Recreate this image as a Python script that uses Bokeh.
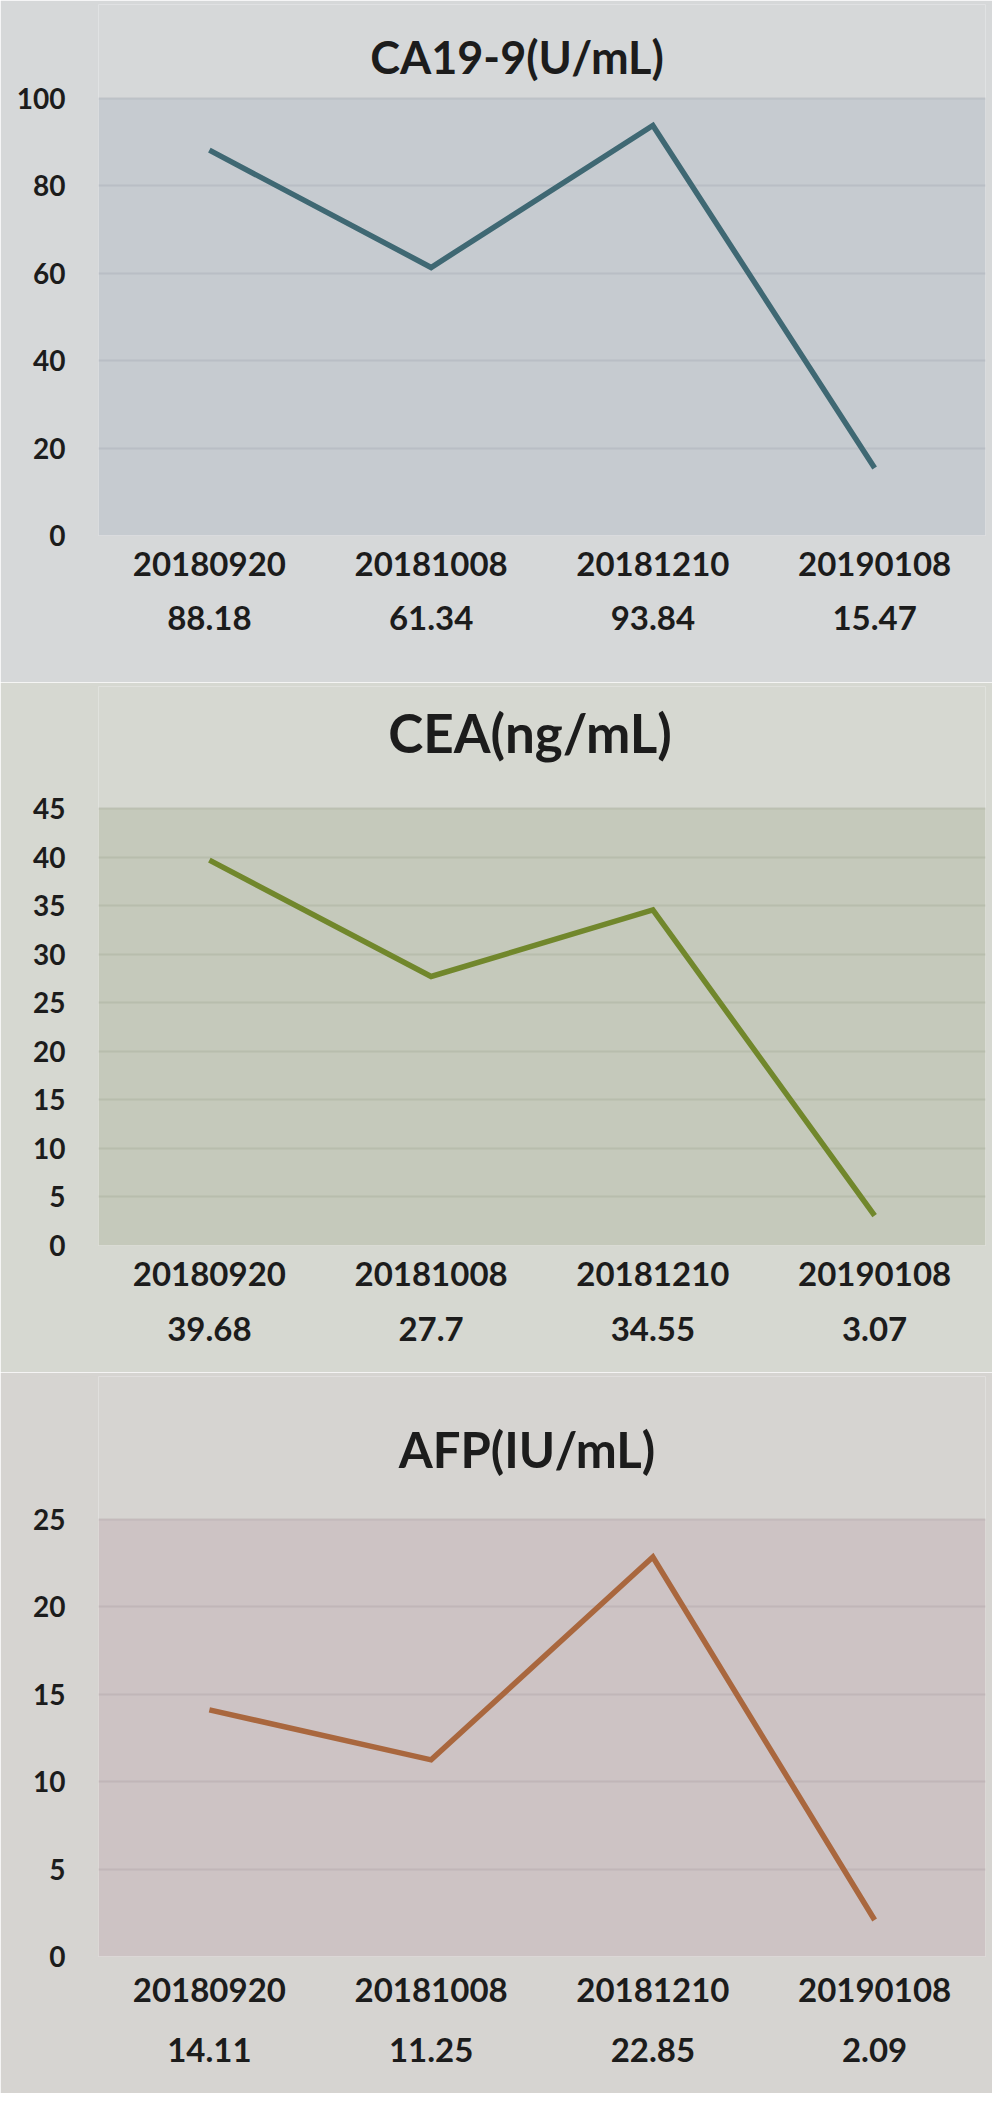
from bokeh.plotting import figure
from bokeh.models import (FactorRange, Range1d, CategoricalAxis, FixedTicker, BoxAnnotation)
from bokeh.core.properties import value
from bokeh.layouts import column
from bokeh.embed import file_html
from bokeh.resources import INLINE

dates = ["20180920", "20181008", "20181210", "20190108"]
ca199 = [88.18, 61.34, 93.84, 15.47]
cea = [39.68, 27.7, 34.55, 3.07]
afp = [14.11, 11.25, 22.85, 2.09]
titles = ["CA19-9(U/mL)", "CEA(ng/mL)", "AFP(IU/mL)"]
y_max = [100, 45, 25]
y_step = [20, 5, 5]

FONT = "Lato"
TXT = "#1c1c1c"
AREA_H = 437      # plot-area height in px
AREA_W = 887      # plot-area width in px
BAND_W = AREA_W / 4
TOP_PAD = 4


def style_cat_axis(ax, standoff):
    ax.axis_line_color = None
    ax.major_tick_line_color = None
    ax.major_tick_out = 0
    ax.major_tick_in = 0
    ax.major_label_standoff = standoff
    ax.major_label_text_font = FONT
    ax.major_label_text_font_size = "33px"
    ax.major_label_text_font_style = "bold"
    ax.major_label_text_color = TXT


def key_segment(p, x0_px, x1_px, y_data, color, width):
    """legend key of the data-table row, drawn as a short bounded axis rule"""
    ax = CategoricalAxis(bounds=(x0_px / BAND_W, x1_px / BAND_W), fixed_location=y_data)
    ax.axis_line_color = color
    ax.axis_line_width = width
    ax.axis_line_cap = "butt"
    ax.major_tick_line_color = None
    ax.minor_tick_line_color = None
    ax.major_tick_out = 0
    ax.major_tick_in = 0
    ax.major_label_text_font_size = "0px"
    ax.major_label_text_alpha = 0
    ax.major_label_standoff = 0
    p.add_layout(ax, "below")


def make_chart(title, vals, ymax, step, line_color, plot_fill, page_fill, H, area_top,
               t_size, t_gap, t_dx, cat_standoff, val_standoff, key_dy, grid_color):
    frame_h = AREA_H + area_top - TOP_PAD
    bottom = H - TOP_PAD - frame_h
    px = ymax / AREA_H
    p = figure(width=992, height=H,
               x_range=FactorRange(*dates), y_range=Range1d(0, frame_h * px),
               output_backend="svg", toolbar_location=None,
               min_border_left=98, min_border_right=7,
               min_border_top=TOP_PAD, min_border_bottom=bottom)
    p.title.visible = False
    p.background_fill_color = page_fill
    p.border_fill_color = page_fill
    p.outline_line_color = None

    # plot area
    p.add_layout(BoxAnnotation(bottom=0, top=ymax, fill_color=plot_fill, fill_alpha=1,
                               line_color=None, level="image"))

    ticks = list(range(0, ymax + 1, step))
    p.xgrid.grid_line_color = None
    p.ygrid.ticker = FixedTicker(ticks=ticks)
    p.ygrid.grid_line_color = grid_color
    p.ygrid.grid_line_width = 2
    p.ygrid.grid_line_alpha = 0.55

    ya = p.yaxis[0]
    ya.ticker = FixedTicker(ticks=ticks)
    ya.axis_line_color = None
    ya.major_tick_line_color = None
    ya.minor_tick_line_color = None
    ya.major_tick_out = 0
    ya.major_tick_in = 0
    ya.major_label_standoff = 33
    ya.major_label_text_font = FONT
    ya.major_label_text_font_size = "28px"
    ya.major_label_text_font_style = "bold"
    ya.major_label_text_color = TXT

    style_cat_axis(p.xaxis[0], cat_standoff)

    labels = [str(v) for v in vals]
    p.extra_x_ranges = {"vals": FactorRange(*labels)}
    va = CategoricalAxis(x_range_name="vals")
    style_cat_axis(va, val_standoff)
    p.add_layout(va, "below")

    p.line(x=dates, y=vals, line_color=line_color, line_width=5.5, line_join="miter")

    # chart title
    p.text(x=[2 + t_dx / BAND_W], y=[ymax + t_gap * px], text=[title],
           text_font=value(FONT), text_font_size=value(t_size), text_font_style="bold",
           text_color=TXT, text_align="center", text_baseline="middle")

    # legend key "—." of the data-table row
    key_segment(p, -61, -11, -key_dy * px, line_color, 6)
    key_segment(p, -9, -5, -(key_dy + 9) * px, "#555555", 4)
    return p


p1 = make_chart(titles[0], ca199, y_max[0], y_step[0], "#3f6873", "#c6cbd0", "#d6d8d9",
                682, 98, "45px", 42, -25, 16, 27, 83, "#aeb5bc")
p2 = make_chart(titles[1], cea, y_max[1], y_step[1], "#71872c", "#c5c9bb", "#d6d8d1",
                690, 126, "53px", 76, -12, 16, 28, 87, "#adb2a2")
p3 = make_chart(titles[2], afp, y_max[2], y_step[2], "#a9673e", "#cdc3c4", "#d6d4d1",
                721, 147, "49px", 71, -15, 21, 33, 91, "#b8acae")

layout = column(p1, p2, p3, spacing=0)
open("out.html", "w").write(file_html(layout, INLINE))
